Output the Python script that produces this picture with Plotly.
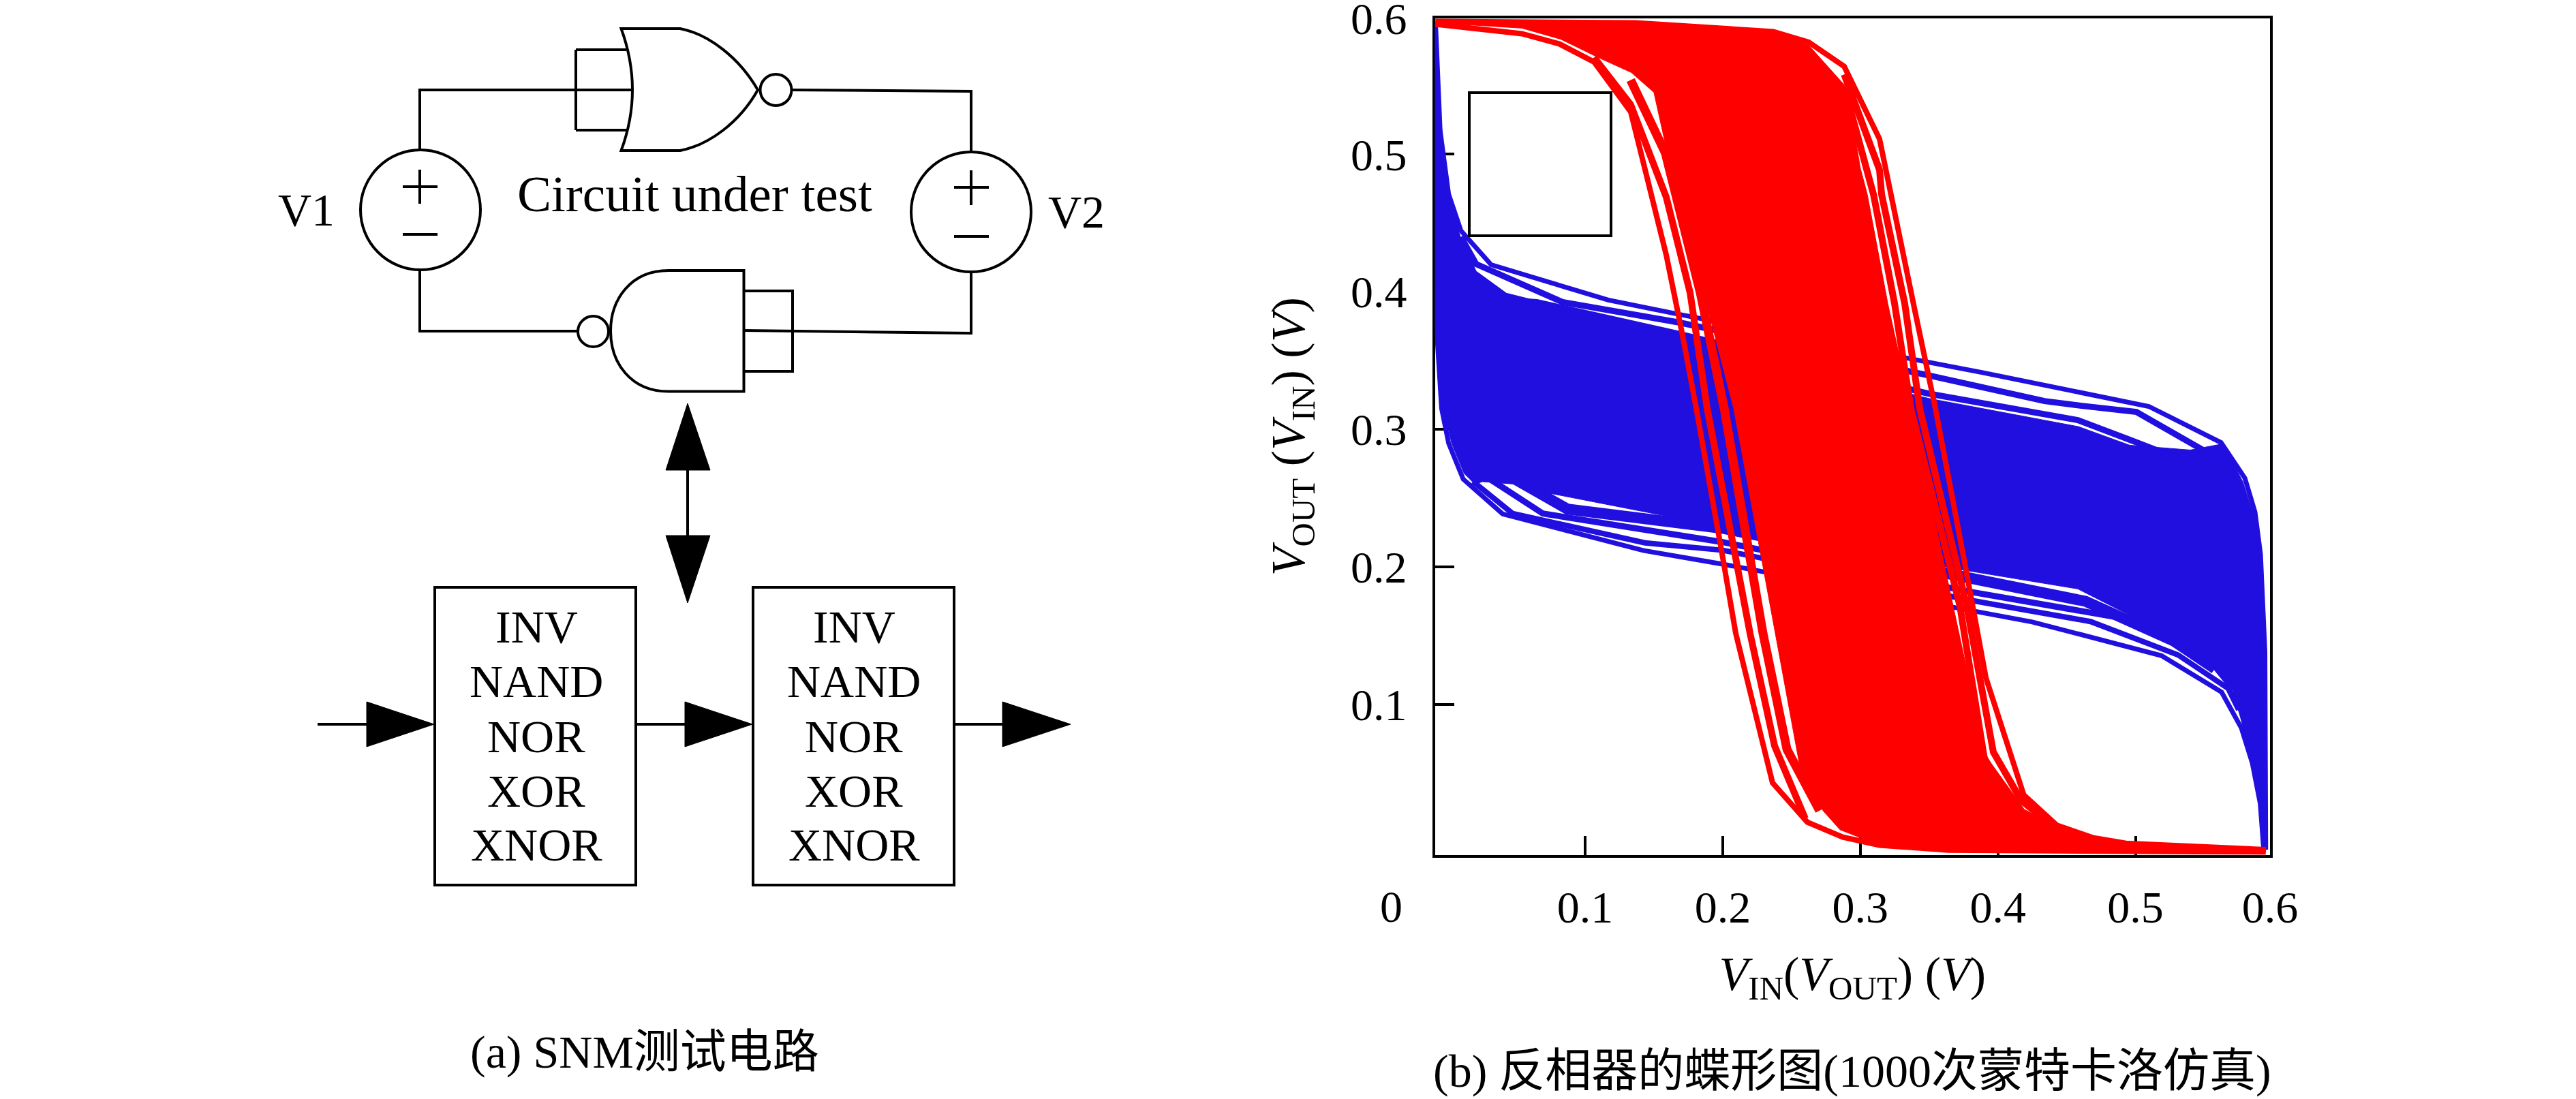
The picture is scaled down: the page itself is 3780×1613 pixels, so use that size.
import plotly.graph_objects as go

SERIF = "Liberation Serif, Noto Sans CJK SC, serif"
BLUE = "#200FDF"
RED = "#FF0000"
BLACK = "#000000"

# ---------- butterfly curves (volts) ----------
blue_u1_x = [-0.0087,-0.0054,0.0008,0.0097,0.0317,0.0804,0.1169,0.1689,0.3460,0.3883,0.5097,0.5622,0.5795,0.5869,0.5909,0.5941,0.5947]
blue_u1_y = [0.5946,0.5173,0.4709,0.4445,0.4197,0.4045,0.3940,0.3835,0.3494,0.3414,0.3167,0.2904,0.2646,0.2398,0.2091,0.1383,-0.0055]
blue_u2_x = [0.0097,0.0208,0.0837,0.1689,0.3490,0.4339,0.4611,0.5007,0.5552,0.5706,0.5825]
blue_u2_y = [0.4400,0.4202,0.3925,0.3776,0.3394,0.3206,0.3171,0.3127,0.2815,0.2631,0.2359]
blue_u3_x = [0.0208,0.0428,0.0649,0.1689,0.3490,0.4581,0.4946,0.5399]
blue_u3_y = [0.4123,0.3940,0.3925,0.3692,0.3261,0.3067,0.2929,0.2755]
blue_d1_x = [-0.0087,-0.0085,-0.0074,-0.0043,0.0008,0.0114,0.0401,0.0981,0.1422,0.1999,0.3824,0.4250,0.5189,0.5626,0.5770,0.5849,0.5907,0.5932]
blue_d1_y = [0.5946,0.4143,0.3647,0.3152,0.2899,0.2638,0.2385,0.2235,0.2120,0.2020,0.1680,0.1600,0.1355,0.1090,0.0828,0.0575,0.0278,-0.0055]
blue_d2_x = [0.0185,0.0473,0.1435,0.2001,0.3794,0.4673,0.5310,0.5674,0.5750]
blue_d2_y = [0.2621,0.2388,0.2175,0.2121,0.1759,0.1603,0.1360,0.1116,0.0961]
blue_d3_x = [0.0296,0.0693,0.2001,0.3794,0.4976,0.5401,0.5582,0.5706]
blue_d3_y = [0.2646,0.2388,0.2180,0.1820,0.1615,0.1404,0.1271,0.1120]
blue_d4_x = [0.0475,0.0872,0.2001,0.3794,0.4636,0.5280,0.5577]
blue_d4_y = [0.2646,0.2420,0.2280,0.1930,0.1750,0.1460,0.1260]
blue_core_top_x = [-0.0084,0.0008,0.0097,0.0208,0.0428,0.1714,0.3497,0.4586,0.4958,0.5399,0.5636,0.5780,0.5864,0.5904,0.5934,0.5941]
blue_core_top_y = [0.5629,0.4663,0.4390,0.4150,0.3990,0.3667,0.3225,0.3020,0.2885,0.2850,0.2895,0.2620,0.2359,0.2061,0.1368,-0.0055]
blue_core_bot_x = [-0.0074,-0.0030,0.0030,0.0120,0.0200,0.0253,0.0517,0.0617,0.1999,0.3733,0.4581,0.5250,0.5582,0.5706,0.5765,0.5854,0.5914,0.5934]
blue_core_bot_y = [0.3598,0.3152,0.2900,0.2680,0.2600,0.2620,0.2600,0.2560,0.2290,0.1980,0.1840,0.1500,0.1290,0.1100,0.0900,0.0550,0.0228,-0.0055]

red_l1_x = [-0.0089,0.0540,0.0812,0.1065,0.1332,0.1590,0.1711,0.1808,0.2004,0.2095,0.2362,0.2615,0.2873,0.3140,0.3640,0.5947]
red_l1_y = [0.5946,0.5877,0.5803,0.5671,0.5307,0.4267,0.3669,0.3152,0.2047,0.1516,0.0431,0.0144,0.0035,-0.0023,-0.0059,-0.0074]
red_l2_x = [0.1065,0.1331,0.1590,0.1763,0.1887,0.2199,0.2377,0.2600]
red_l2_y = [0.5704,0.5362,0.4688,0.3994,0.3152,0.1516,0.0699,0.0170]
red_l3_x = [0.1331,0.1583,0.1837,0.2011,0.2293,0.2467,0.2704]
red_l3_y = [0.5540,0.5010,0.3994,0.3152,0.1516,0.0674,0.0228]
red_r1_x = [-0.0089,0.1367,0.2368,0.2625,0.2883,0.3140,0.3398,0.3546,0.3764,0.3913,0.4188,0.4430,0.4688,0.4931,0.5947]
red_r1_y = [0.5966,0.5956,0.5892,0.5815,0.5639,0.5111,0.3857,0.3152,0.2002,0.1194,0.0342,0.0121,0.0032,-0.0010,-0.0055]
red_r2_x = [0.2883,0.3140,0.3155,0.3323,0.3432,0.3774,0.3967,0.4170,0.4418]
red_r2_y = [0.5580,0.4886,0.4708,0.3915,0.3152,0.1715,0.0654,0.0302,0.0104]
red_r3_x = [0.2883,0.3096,0.3249,0.3368,0.3724,0.3903,0.4170]
red_r3_y = [0.5491,0.4708,0.3915,0.3152,0.1715,0.0600,0.0228]
red_core_left_x = [-0.0089,0.0540,0.0822,0.1095,0.1335,0.1500,0.1600,0.1700,0.1862,0.2080,0.2293,0.2382,0.2556,0.2729,0.2853,0.3140,0.3640,0.5947]
red_core_left_y = [0.5956,0.5917,0.5837,0.5704,0.5595,0.5450,0.5000,0.4500,0.3994,0.3152,0.2002,0.1516,0.0575,0.0228,0.0089,-0.0023,-0.0059,-0.0074]
red_core_right_x = [-0.0089,0.1367,0.2368,0.2625,0.2883,0.2942,0.3000,0.3051,0.3200,0.3368,0.3675,0.3903,0.4116,0.4487,0.4931,0.5947]
red_core_right_y = [0.5956,0.5948,0.5882,0.5793,0.5505,0.5250,0.4900,0.4708,0.3914,0.3152,0.1715,0.0654,0.0278,0.0079,-0.0010,-0.0055]

blue_lines = [(blue_u1_x, blue_u1_y, 7), (blue_u2_x, blue_u2_y, 9), (blue_u3_x, blue_u3_y, 9),
              (blue_d1_x, blue_d1_y, 7), (blue_d2_x, blue_d2_y, 8), (blue_d3_x, blue_d3_y, 9), (blue_d4_x, blue_d4_y, 16)]
red_lines = [(red_l1_x, red_l1_y, 8), (red_l2_x, red_l2_y, 10), (red_l3_x, red_l3_y, 13),
             (red_r1_x, red_r1_y, 8), (red_r2_x, red_r2_y, 10), (red_r3_x, red_r3_y, 10)]

# ---------- axes ----------
x_range = [-0.00916, 0.5978]
y_range = [-0.00927, 0.5988]
x_tick_vals = [0.1, 0.2, 0.3, 0.4, 0.5, 0.5978]
y_tick_vals = [0.1, 0.2, 0.3, 0.4, 0.5, 0.5988]
tick_text = ["0.1", "0.2", "0.3", "0.4", "0.5", "0.6"]
x_title = "<i>V</i><sub>IN</sub>(<i>V</i><sub>OUT</sub>) (<i>V</i>)"
y_title = "<i>V</i><sub>OUT</sub> (<i>V</i><sub>IN</sub>) (<i>V</i>)"

# ---------- circuit diagram (drawing units) ----------
wire_x = [616,616,927,None,845,919,None,845,845,None,845,919,None,1161,1425,1425,None,
          616,616,848,None,1091,1163,1163,1091,None,1091,1425,1425,None,
          591,642,None,616,616,None,591,642,None,1400,1451,None,1425,1425,None,1400,1451,None,
          1009,1009,None,466,538,None,933,1005,None,1400,1471]
wire_y = [219,132,132,None,73,73,None,73,191,None,191,191,None,132,134,222,None,
          397,486,486,None,427,427,545,545,None,485,489,400,None,
          274,274,None,249,299,None,344,344,None,275,275,None,250,301,None,347,347,None,
          690,786,None,1063,1063,None,1063,1063,None,1063,1063]
head_x = [1009,977,1042,1009,None,1009,977,1042,1009,None,
          538,538,637,538,None,1005,1005,1104,1005,None,1471,1471,1571,1471]
head_y = [592,690,690,592,None,885,786,786,885,None,
          1030,1096,1063,1030,None,1030,1096,1063,1030,None,1030,1096,1063,1030]
box_rects = [(638,862,933,1299),(1105,862,1400,1299),(2156,136,2364,346)]
circles = [(617,308,88),(1425,311,88),(1138.5,132,23),(870.5,486.5,22.5)]
nor_path = "M 911.5 42 L 998 42 C 1040 50, 1085 85, 1112 132 C 1085 180, 1040 213, 998 221 L 911.5 221 Q 944.5 132 911.5 42 Z"
nand_path = "M 1091.5 397 L 981 397 C 925 397, 896 440, 896 486 C 896 532, 925 574.6, 981 574.6 L 1091.5 574.6 Z"
gate_labels = ["INV", "NAND", "NOR", "XOR", "XNOR"]
gate_label_y = [920, 1000, 1081, 1161, 1240]
gate_label_x = [787, 1253]
free_text = [(449.5, 308, "V1", 68), (1579, 311, "V2", 68), (1019.6, 284, "Circuit under test", 75),
             (2041, 1330, "0", 66),
             (946, 1544, "(a) SNM测试电路", 68),
             (2718, 1572, "(b) 反相器的蝶形图(1000次蒙特卡洛仿真)", 68)]

fig = go.Figure()
fig.add_trace(go.Scatter(x=blue_core_top_x + blue_core_bot_x[::-1], y=blue_core_top_y + blue_core_bot_y[::-1],
                         mode="lines", fill="toself", fillcolor=BLUE, line=dict(color=BLUE, width=1), hoverinfo="skip"))
for lx, ly, lw in blue_lines:
    fig.add_trace(go.Scatter(x=lx, y=ly, mode="lines", line=dict(color=BLUE, width=lw), hoverinfo="skip"))
fig.add_trace(go.Scatter(x=red_core_left_x + red_core_right_x[::-1], y=red_core_left_y + red_core_right_y[::-1],
                         mode="lines", fill="toself", fillcolor=RED, line=dict(color=RED, width=1), hoverinfo="skip"))
for lx, ly, lw in red_lines:
    fig.add_trace(go.Scatter(x=lx, y=ly, mode="lines", line=dict(color=RED, width=lw), hoverinfo="skip"))

fig.add_trace(go.Scatter(x=wire_x, y=wire_y, xaxis="x2", yaxis="y2", mode="lines",
                         line=dict(color=BLACK, width=4), hoverinfo="skip", connectgaps=False))
fig.add_trace(go.Scatter(x=head_x, y=head_y, xaxis="x2", yaxis="y2", mode="lines", fill="toself",
                         fillcolor=BLACK, line=dict(color=BLACK, width=1), hoverinfo="skip"))

shapes = []
for x0, y0, x1, y1 in box_rects:
    shapes.append(dict(type="rect", xref="x2", yref="y2", x0=x0, y0=y0, x1=x1, y1=y1,
                       line=dict(color=BLACK, width=4)))
for cx, cy, r in circles:
    shapes.append(dict(type="circle", xref="x2", yref="y2", x0=cx-r, y0=cy-r, x1=cx+r, y1=cy+r,
                       line=dict(color=BLACK, width=4)))
for p in (nor_path, nand_path):
    shapes.append(dict(type="path", xref="x2", yref="y2", path=p, line=dict(color=BLACK, width=4)))

annotations = []
for gx in gate_label_x:
    for t, gy in zip(gate_labels, gate_label_y):
        annotations.append(dict(xref="x2", yref="y2", x=gx, y=gy, text=t, showarrow=False,
                                xanchor="center", yanchor="middle", font=dict(family=SERIF, size=68, color=BLACK)))
for tx, ty, t, s in free_text:
    annotations.append(dict(xref="x2", yref="y2", x=tx, y=ty, text=t, showarrow=False,
                            xanchor="center", yanchor="middle", font=dict(family=SERIF, size=s, color=BLACK)))

W, H = 3780, 1613
axis_common = dict(showgrid=False, zeroline=False, showline=True, mirror=True, linecolor=BLACK, linewidth=4,
                   ticks="inside", ticklen=28, tickwidth=4, tickcolor=BLACK, layer="below traces",
                   tickmode="array", ticktext=tick_text, ticklabeloverflow="allow",
                   tickfont=dict(family=SERIF, size=66, color=BLACK))
fig.update_layout(
    width=W, height=H, margin=dict(l=0, r=0, t=0, b=0, autoexpand=False), showlegend=False,
    paper_bgcolor="white", plot_bgcolor="rgba(0,0,0,0)", font=dict(family=SERIF, color=BLACK),
    xaxis=dict(domain=[2105.6/W, 3331/W], range=x_range, tickvals=x_tick_vals, anchor="y", ticklabelstandoff=16,
               title=dict(text=x_title, font=dict(family=SERIF, size=70), standoff=38), **axis_common),
    yaxis=dict(domain=[1-1254.5/H, 1-27/H], range=y_range, tickvals=y_tick_vals, anchor="x", ticklabelstandoff=24,
               title=dict(text=y_title, font=dict(family=SERIF, size=70), standoff=45), **axis_common),
    xaxis2=dict(domain=[0, 1], range=[0, W], visible=False, anchor="y2", fixedrange=True),
    yaxis2=dict(domain=[0, 1], range=[H, 0], visible=False, anchor="x2", fixedrange=True),
    shapes=shapes, annotations=annotations,
)
fig.write_html("out.html", config=dict(displayModeBar=False), post_script="document.body.style.margin='0'")
